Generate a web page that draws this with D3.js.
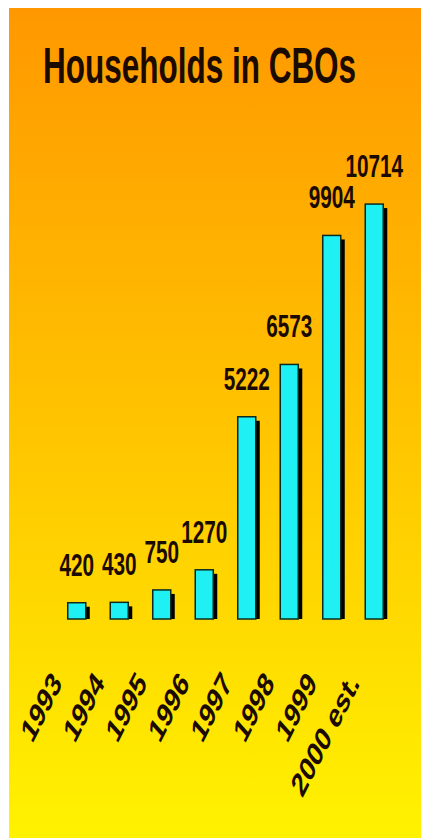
<!DOCTYPE html>
<html>
<head>
<meta charset="utf-8">
<script src="https://cdn.jsdelivr.net/npm/d3@7"></script>
<style>
  html, body { margin: 0; padding: 0; background: #fff; }
  svg { display: block; }
  text { font-family: "Liberation Sans", Arial, sans-serif; fill: #1a0a00; }
</style>
</head>
<body>
<svg id="chart" width="421" height="838"></svg>
<script>
// Households enrolled in community-based organisations, by year
const years = ["1993", "1994", "1995", "1996", "1997", "1998", "1999", "2000 est."];
const households = [420, 430, 750, 1270, 5222, 6573, 9904, 10714];
const title = "Households in CBOs";

const W = 421, H = 838;
const svg = d3.select("#chart");
// lettering on this slide is drawn narrow and tall
const SX = 0.67;

// orange-to-yellow backdrop
const defs = svg.append("defs");
const grad = defs.append("linearGradient")
  .attr("id", "bg").attr("x1", 0).attr("y1", 0).attr("x2", 0).attr("y2", 1);
grad.append("stop").attr("offset", "0%").attr("stop-color", "#ff9800");
grad.append("stop").attr("offset", "50%").attr("stop-color", "#ffc400");
grad.append("stop").attr("offset", "100%").attr("stop-color", "#fff200");

svg.append("rect").attr("x", 9).attr("y", 8)
  .attr("width", W - 9).attr("height", H - 8).attr("fill", "url(#bg)");

// title
svg.append("text")
  .attr("transform", `translate(43,83) scale(0.63,1)`)
  .attr("font-size", 50)
  .attr("font-weight", "bold")
  .text(title);

// scales
const baseY = 619;
const x = d3.scaleBand()
  .domain(years)
  .range([55.5, 395.5])
  .paddingInner(0.576)
  .paddingOuter(0.288);

const y = d3.scaleLinear()
  .domain([0, 11000])
  .range([baseY, baseY - 426]);

const data = years.map((yr, i) => ({ year: yr, value: households[i] }));
const bw = x.bandwidth();
const sh = 4; // drop-shadow offset

const bars = svg.append("g");

// black drop shadow to the right of each bar
bars.selectAll("rect.shadow")
  .data(data)
  .join("rect")
  .attr("class", "shadow")
  .attr("x", d => x(d.year) + bw)
  .attr("y", d => y(d.value) + sh)
  .attr("width", sh)
  .attr("height", d => baseY - y(d.value) - sh)
  .attr("fill", "#000");

// cyan bars
bars.selectAll("rect.bar")
  .data(data)
  .join("rect")
  .attr("class", "bar")
  .attr("x", d => x(d.year))
  .attr("y", d => y(d.value))
  .attr("width", bw)
  .attr("height", d => baseY - y(d.value))
  .attr("fill", "#1ef0f4")
  .attr("stroke", "#0b2a20")
  .attr("stroke-width", 1.5);

// value labels above bars
svg.append("g").selectAll("text")
  .data(data)
  .join("text")
  .attr("transform", d => `translate(${x(d.year) + bw / 2},${y(d.value) - 27}) scale(${SX},1)`)
  .attr("text-anchor", "middle")
  .attr("font-size", 31)
  .attr("font-weight", "bold")
  .text(d => d3.format("d")(d.value));

// slanted year labels below the baseline
const xAxis = svg.append("g");
xAxis.selectAll("text")
  .data(years)
  .join("text")
  .attr("transform", d => `translate(${x(d) + bw / 2 - 14},684) scale(${SX},1) rotate(-53)`)
  .attr("text-anchor", "end")
  .attr("font-size", 34)
  .attr("font-weight", "bold")
  .text(d => d);
</script>
</body>
</html>
